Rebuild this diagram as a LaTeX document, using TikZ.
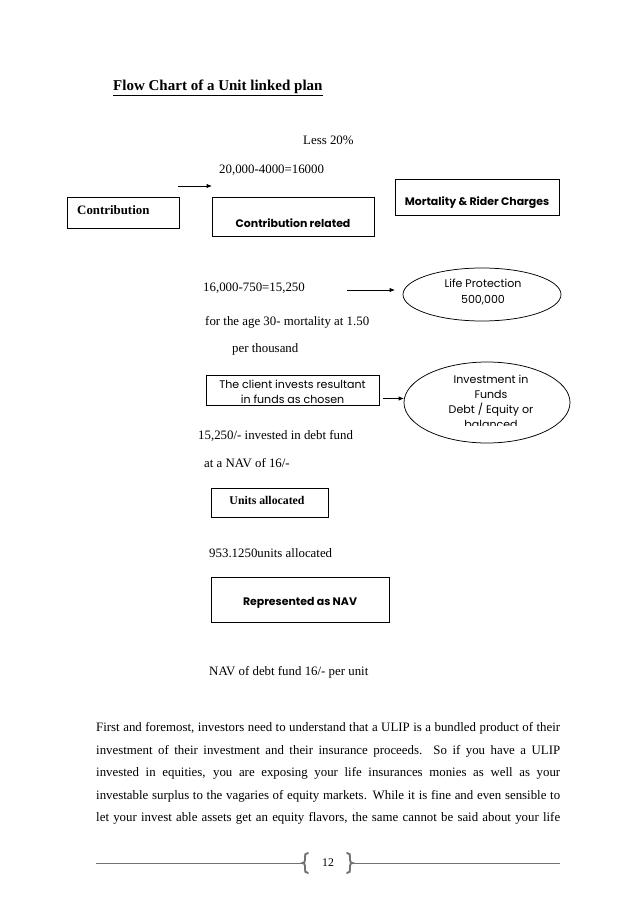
\documentclass[tikz,border=0pt]{standalone}
\usepackage{fontspec}
\setmainfont{Liberation Serif}
\newfontfamily\gothic{Poppins}
\usetikzlibrary{arrows.meta,shapes.geometric}
\begin{document}
\begin{tikzpicture}[x=0.9326pt,y=-0.9326pt,
  sz/.style 2 args={minimum width={#1*0.9326pt},minimum height={#2*0.9326pt}},
  box/.style={draw=black,line width=0.7pt,inner sep=0pt},
  oval/.style={draw=black,line width=0.7pt,ellipse,inner sep=0pt},
  txt/.style={inner sep=0pt,font=\fontsize{12}{14}\selectfont},
  gtxt/.style={inner sep=0pt,font=\gothic\fontsize{10.3}{13.5}\selectfont,align=center},
  gbtxt/.style={inner sep=0pt,font=\gothic\bfseries\fontsize{10.2}{12}\selectfont},
  arr/.style={-{Latex[length=5pt,width=4pt]},line width=0.7pt},
  foot/.style={draw=black!55,line width=0.9pt},
  brace/.style={draw=black!55,line width=1.8pt,line cap=round}]
\useasboundingbox (0,0) rectangle (638,902);
\fill[white] (0,0) rectangle (638,902);
% title
\node[txt,anchor=west,font=\bfseries\fontsize{14}{16}\selectfont] (title) at (113,88) {\underline{Flow Chart of a Unit linked plan}};
% top texts
\node[txt,anchor=west] (less) at (303,140) {Less 20\%};
\node[txt,anchor=west] (calc1) at (219,170) {20,000-4000=16000};
% boxes row
\node[box,sz={112}{31}] (contrib) at (123,212.5) {};
\node[txt,anchor=west,font=\bfseries\fontsize{12}{14}\selectfont] (contribt) at (77,210) {Contribution};
\node[box,sz={162}{39}] (crel) at (293,216.5) {};
\node[gbtxt] (crelt) at (293,223) {Contribution related};
\node[box,sz={164}{36}] (mort) at (477,197) {};
\node[gbtxt] (mortt) at (477,203) {Mortality \& Rider Charges};
\coordinate (a1s) at (178,186);
\coordinate (a1e) at (212,186);
\draw[arr] (a1s) -- (a1e);
% second block
\node[txt,anchor=west] (calc2) at (203,288) {16,000-750=15,250};
\node[oval,sz={158}{53}] (life) at (482,294.5) {};
\node[gtxt,font=\gothic\fontsize{10.3}{14.5}\selectfont] (lifet) at (483,292) {Life Protection\\500,000};
\coordinate (a2s) at (347,290);
\coordinate (a2e) at (395,290);
\draw[arr] (a2s) -- (a2e);
\node[txt,anchor=west] (age) at (205,322) {for the age 30- mortality at 1.50};
\node[txt,anchor=west] (perth) at (232,349) {per thousand};
% client
\node[box,sz={173}{30}] (client) at (292.5,390) {};
\node[gtxt] (clientt) at (292.5,392) {The client invests resultant\\in funds as chosen};
\node[oval,sz={166}{81}] (inv) at (487,402.5) {};
\begin{scope}
\clip (420,365) rectangle (560,425.5);
\node[gtxt,font=\gothic\fontsize{10.3}{14.2}\selectfont] (invt) at (491,402) {Investment in\\Funds\\Debt / Equity or\\balanced};
\end{scope}
\coordinate (a3s) at (383,398.5);
\coordinate (a3e) at (404,398.5);
\draw[arr] (a3s) -- (a3e);
\node[txt,anchor=west] (inv1) at (198,436) {15,250/- invested in debt fund};
\node[txt,anchor=west] (inv2) at (204,463) {at a NAV of 16/-};
% units
\node[box,sz={117}{29}] (units) at (269.5,502.5) {};
\node[txt,font=\bfseries\fontsize{11}{13}\selectfont] (unitst) at (267,500) {Units allocated};
\node[txt,anchor=west] (ualloc) at (209,553) {953.1250units allocated};
\node[box,sz={178}{45}] (nav) at (300,599.5) {};
\node[gbtxt] (navt) at (300,603) {Represented as NAV};
\node[txt,anchor=west] (navdebt) at (209,672) {NAV of debt fund 16/- per unit};
% paragraph
\node[txt,anchor=west] (p1) at (96,728) {\makebox[432.7pt][s]{First and foremost, investors need to understand that a ULIP is a bundled product of their}};
\node[txt,anchor=west] (p2) at (96,751) {\makebox[432.7pt][s]{investment of their investment and their insurance proceeds. So if you have a ULIP}};
\node[txt,anchor=west] (p3) at (96,773) {\makebox[432.7pt][s]{invested in equities, you are exposing your life insurances monies as well as your}};
\node[txt,anchor=west] (p4) at (96,796) {\makebox[432.7pt][s]{investable surplus to the vagaries of equity markets. While it is fine and even sensible to}};
\node[txt,anchor=west] (p5) at (96,818) {\makebox[432.7pt][s]{let your invest able assets get an equity flavors, the same cannot be said about your life}};
% footer
\draw[foot] (96,863) -- (302,863);
\draw[foot] (353,863) -- (560,863);
\draw[brace] (308,853) .. controls (305,853) and (305,855) .. (305,857) -- (305,860) .. controls (305,862) and (304,863) .. (302.5,863) .. controls (304,863) and (305,864) .. (305,866) -- (305,869) .. controls (305,871) and (305,873) .. (308,873);
\draw[brace] (347,853) .. controls (350,853) and (350,855) .. (350,857) -- (350,860) .. controls (350,862) and (351,863) .. (352.5,863) .. controls (351,863) and (350,864) .. (350,866) -- (350,869) .. controls (350,871) and (350,873) .. (347,873);
\node[txt,font=\fontsize{11}{13}\selectfont] (pg) at (328,863) {12};
\end{tikzpicture}
\end{document}
